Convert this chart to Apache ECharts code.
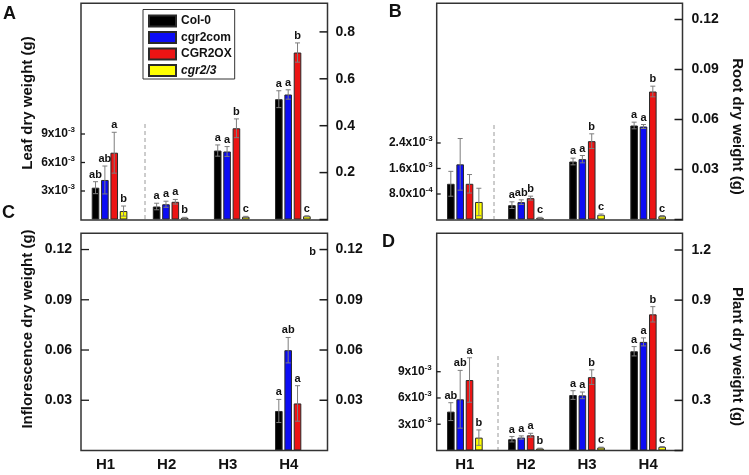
<!DOCTYPE html>
<html><head><meta charset="utf-8">
<script src="https://cdn.jsdelivr.net/npm/echarts@6/dist/echarts.min.js"></script>
<style>html,body{margin:0;padding:0;background:#fff}#c{width:749px;height:475px}</style>
</head><body><div id="c"></div>
<script>
const categories = ['H1', 'H2', 'H3', 'H4'];
const genotypes = ['Col-0', 'cgr2com', 'CGR2OX', 'cgr2/3'];

// rows = genotypes (Col-0, cgr2com, CGR2OX, cgr2/3), columns = H1..H4 (g)
// H1 is read on the left axis, H2-H4 on the right axis
const leafMean = [
  [0.00335, 0.0554, 0.294, 0.513],
  [0.00416, 0.065, 0.290, 0.533],
  [0.00703, 0.0755, 0.389, 0.712],
  [0.00089, 0.0072, 0.0115, 0.014]
];
const leafErr = [
  [0.00063, 0.014, 0.024, 0.036],
  [0.00147, 0.013, 0.021, 0.020],
  [0.00215, 0.010, 0.040, 0.041],
  [0.00053, 0.002, 0.002, 0.002]
];
const leafSig = [
  ['ab', 'a', 'a', 'a'],
  ['ab', 'a', 'a', 'a'],
  ['a', 'a', 'b', 'b'],
  ['b', 'b', 'c', 'c']
];

const rootMean = [
  [0.00112, 0.0086, 0.0348, 0.0564],
  [0.00173, 0.0104, 0.0362, 0.0558],
  [0.00112, 0.0128, 0.047, 0.0768],
  [0.00055, 0.001, 0.0028, 0.002]
];
const rootErr = [
  [0.00039, 0.002, 0.002, 0.002],
  [0.00081, 0.0014, 0.0022, 0.0012],
  [0.00029, 0.0012, 0.0044, 0.0032],
  [0.00043, 0.0003, 0.0005, 0.0004]
];
const rootSig = [
  ['', 'a', 'a', 'a'],
  ['', 'ab', 'a', 'a'],
  ['', 'b', 'b', 'b'],
  ['', 'c', 'c', 'c']
];

const inflMean = [
  [null, null, null, 0.0236],
  [null, null, null, 0.0599],
  [null, null, null, 0.0281],
  [null, null, null, null]
];
const inflErr = [
  [0, 0, 0, 0.0069],
  [0, 0, 0, 0.0076],
  [0, 0, 0, 0.0106],
  [0, 0, 0, 0]
];
const inflSig = [
  ['', '', '', 'a'],
  ['', '', '', 'ab'],
  ['', '', '', 'a'],
  ['', '', '', '']
];

const plantMean = [
  [0.00444, 0.0674, 0.332, 0.594],
  [0.00585, 0.0775, 0.330, 0.650],
  [0.00805, 0.091, 0.439, 0.815],
  [0.00147, 0.012, 0.018, 0.0215]
];
const plantErr = [
  [0.00102, 0.016, 0.026, 0.028],
  [0.0033, 0.010, 0.020, 0.024],
  [0.00254, 0.012, 0.044, 0.046],
  [0.00088, 0.002, 0.002, 0.002]
];
const plantSig = [
  ['ab', 'a', 'a', 'a'],
  ['ab', 'a', 'a', 'a'],
  ['a', 'a', 'b', 'b'],
  ['b', 'b', 'c', 'c']
];

// tick values
const leafLeftTicks = [0.003, 0.006, 0.009];
const leafRightTicks = [0.2, 0.4, 0.6, 0.8];
const rootLeftTicks = [0.0008, 0.0016, 0.0024];
const rootRightTicks = [0.03, 0.06, 0.09, 0.12];
const inflTicks = [0.03, 0.06, 0.09, 0.12];
const plantLeftTicks = [0.003, 0.006, 0.009];
const plantRightTicks = [0.3, 0.6, 0.9, 1.2];

const FONT = 'Liberation Sans, Arial, sans-serif';
const colors = ['#000000', '#0c0cf5', '#ec1414', '#ffff00'];
const BAR_W = 7.6, GAP_RATIO = 0.23;
const gapPx = BAR_W * GAP_RATIO;
const OFFS = [0, 1, 2, 3].map(i => -(4 * BAR_W + 3 * gapPx) / 2 + BAR_W / 2 + i * (BAR_W + gapPx));

function sci(digits) {
  return function (v) {
    const e = Math.floor(Math.log10(v) + 1e-9);
    const m = v / Math.pow(10, e);
    return '{m|' + m.toFixed(digits) + 'x10}{s|' + e + '}';
  };
}
function fixed(d) { return v => v.toFixed(d); }

const panels = [
  { mean: leafMean, err: leafErr, sig: leafSig,
    grid: { left: 79, top: 3, width: 244.4, height: 216.5 },
    frame: { x: 81, y: 3.3, w: 246.5, h: 216.7 },
    leftMax: 0.02279, rightMax: 0.9232, leftTicks: leafLeftTicks, rightTicks: leafRightTicks,
    leftFmt: sci(0), rightFmt: fixed(1), leftRich: true, leftTickLen: 4, leftMargin: 6, rightMargin: 8,
    rightZeroTick: true, xLabels: false, xPad: 0, leftOff: -2, rightOff: 4.1, leftFontSize: 12 },
  { mean: rootMean, err: rootErr, sig: rootSig,
    grid: { left: 434.3, top: 3, width: 244.4, height: 216.5 },
    frame: { x: 436.7, y: 3.3, w: 245.8, h: 216.7 },
    leftMax: 0.00679, rightMax: 0.1299, leftTicks: rootLeftTicks, rightTicks: rootRightTicks,
    leftFmt: sci(1), rightFmt: fixed(2), leftRich: true, leftTickLen: 4, leftMargin: 4, rightMargin: 9,
    rightZeroTick: true, xLabels: false, xPad: 0, leftOff: -2.4, rightOff: 3.8, leftFontSize: 12 },
  { mean: inflMean, err: inflErr, sig: inflSig,
    grid: { left: 79, top: 233.3, width: 244.4, height: 217.2 },
    frame: { x: 81, y: 233.3, w: 246.5, h: 217.2 },
    leftMax: 0.1297, rightMax: 0.1297, leftTicks: inflTicks, rightTicks: inflTicks,
    leftFmt: fixed(2), rightFmt: fixed(2), leftRich: false, leftTickLen: 8, leftMargin: 9, rightMargin: 8,
    rightZeroTick: false, xLabels: true, xPad: 8, leftOff: -2, rightOff: 4.1, leftFontSize: 14 },
  { mean: plantMean, err: plantErr, sig: plantSig,
    grid: { left: 434.3, top: 233.3, width: 244.4, height: 217.2 },
    frame: { x: 436.7, y: 233.3, w: 245.8, h: 217.2 },
    leftMax: 0.02481, rightMax: 1.3, leftTicks: plantLeftTicks, rightTicks: plantRightTicks,
    leftFmt: sci(0), rightFmt: fixed(1), leftRich: true, leftTickLen: 4, leftMargin: 5, rightMargin: 9,
    rightZeroTick: true, xLabels: true, xPad: 0, leftOff: -2.4, rightOff: 3.8, leftFontSize: 12 }
];

const grids = [], xAxes = [], yAxes = [], series = [];
const richSci = {
  m: { fontSize: 12, fontWeight: 'bold', fontFamily: FONT, color: '#111', lineHeight: 16 },
  s: { fontSize: 8, fontWeight: 'bold', fontFamily: FONT, color: '#111', lineHeight: 11, verticalAlign: 'top' }
};

panels.forEach((p, gi) => {
  grids.push(p.grid);
  for (let k = 0; k < 2; k++) {
    xAxes.push({
      type: 'category', data: categories, gridIndex: gi, show: k === 0,
      axisLine: { show: false }, axisTick: { show: false },
      axisLabel: { show: p.xLabels, fontSize: 15, fontWeight: 'bold', fontFamily: FONT, color: '#111',
        margin: 7, padding: [0, p.xPad, 0, 0] }
    });
  }
  yAxes.push({
    type: 'value', gridIndex: gi, position: 'left', offset: p.leftOff, min: 0, max: p.leftMax,
    splitLine: { show: false }, axisLine: { show: false }, axisTick: { show: false },
    axisLabel: { customValues: p.leftTicks, formatter: p.leftFmt, margin: p.leftMargin,
      fontSize: p.leftFontSize, fontWeight: 'bold', fontFamily: FONT, color: '#111',
      rich: p.leftRich ? richSci : undefined }
  });
  yAxes.push({
    type: 'value', gridIndex: gi, position: 'right', offset: p.rightOff, min: 0, max: p.rightMax,
    splitLine: { show: false }, axisLine: { show: false }, axisTick: { show: false },
    axisLabel: { customValues: p.rightTicks, formatter: p.rightFmt, margin: p.rightMargin,
      fontSize: 14, fontWeight: 'bold', fontFamily: FONT, color: '#111' }
  });

  for (let k = 0; k < 2; k++) {
    const axisIdx = gi * 2 + k;
    const records = [];
    for (let g = 0; g < 4; g++) {
      const data = categories.map((c, ci) => {
        const inPair = k === 0 ? ci === 0 : ci > 0;
        const v = p.mean[g][ci];
        if (inPair && v != null) {
          records.push({ cat: ci, g: g, mean: v, err: p.err[g][ci], sig: p.sig[g][ci] });
          return v;
        }
        return '-';
      });
      series.push({
        type: 'bar', name: genotypes[g], xAxisIndex: axisIdx, yAxisIndex: axisIdx,
        barWidth: BAR_W, barGap: (GAP_RATIO * 100) + '%', data: data, silent: true,
        itemStyle: { color: colors[g], borderColor: '#2a2a2a', borderWidth: 1 }
      });
    }
    series.push({
      type: 'custom', name: 'err', xAxisIndex: axisIdx, yAxisIndex: axisIdx, z: 5, silent: true,
      data: records.map(r => [r.cat, r.mean]),
      renderItem: function (params, api) {
        const r = records[params.dataIndex];
        const x = api.coord([r.cat, r.mean])[0] + OFFS[r.g];
        const yT = api.coord([r.cat, r.mean + r.err])[1];
        const yB = api.coord([r.cat, Math.max(0, r.mean - r.err)])[1];
        const ls = { stroke: '#7d7d7d', lineWidth: 1 };
        const children = [];
        if (r.err > 0) {
          children.push({ type: 'line', shape: { x1: x, y1: yB, x2: x, y2: yT }, style: ls });
          children.push({ type: 'line', shape: { x1: x - 2.5, y1: yT, x2: x + 2.5, y2: yT }, style: ls });
          children.push({ type: 'line', shape: { x1: x - 2.5, y1: yB, x2: x + 2.5, y2: yB }, style: ls });
        }
        if (r.sig) {
          children.push({ type: 'text', x: x, y: yT - 1.5,
            style: { text: r.sig, align: 'center', verticalAlign: 'bottom', textAlign: 'center', textVerticalAlign: 'bottom',
              font: 'bold 11px ' + FONT, fill: '#111' } });
        }
        return { type: 'group', children: children };
      }
    });
  }
});

const frameStyle = { fill: 'none', stroke: '#333', lineWidth: 1.5 };
const dashStyle = { stroke: '#9a9a9a', lineWidth: 1, lineDash: [4, 3] };
const titleFont = 'bold 15px ' + FONT;
const letterFont = 'bold 18px ' + FONT;
const graphic = panels.map(p => ({
  type: 'rect', shape: { x: p.frame.x, y: p.frame.y, width: p.frame.w, height: p.frame.h },
  style: frameStyle, z: 10, silent: true
})).concat([
  { type: 'line', shape: { x1: 145, y1: 124, x2: 145, y2: 219 }, style: dashStyle, silent: true },
  { type: 'line', shape: { x1: 494, y1: 125, x2: 494, y2: 219 }, style: dashStyle, silent: true },
  { type: 'line', shape: { x1: 498, y1: 356, x2: 498, y2: 450 }, style: dashStyle, silent: true },
  { type: 'text', x: 28, y: 103, rotation: Math.PI / 2, silent: true,
    style: { text: 'Leaf dry weight (g)', align: 'center', verticalAlign: 'middle', font: titleFont, fill: '#111' } },
  { type: 'text', x: 28, y: 329, rotation: Math.PI / 2, silent: true,
    style: { text: 'Inflorescence dry weight (g)', align: 'center', verticalAlign: 'middle', font: titleFont, fill: '#111' } },
  { type: 'text', x: 737, y: 126.5, rotation: -Math.PI / 2, silent: true,
    style: { text: 'Root dry weight (g)', align: 'center', verticalAlign: 'middle', font: titleFont, fill: '#111' } },
  { type: 'text', x: 737, y: 356.5, rotation: -Math.PI / 2, silent: true,
    style: { text: 'Plant dry weight (g)', align: 'center', verticalAlign: 'middle', font: titleFont, fill: '#111' } },
  { type: 'text', x: 9.5, y: 14, silent: true, style: { text: 'A', align: 'center', verticalAlign: 'middle', font: letterFont, fill: '#111' } },
  { type: 'text', x: 395.3, y: 12, silent: true, style: { text: 'B', align: 'center', verticalAlign: 'middle', font: letterFont, fill: '#111' } },
  { type: 'text', x: 8.5, y: 213, silent: true, style: { text: 'C', align: 'center', verticalAlign: 'middle', font: letterFont, fill: '#111' } },
  { type: 'text', x: 388.5, y: 242.5, silent: true, style: { text: 'D', align: 'center', verticalAlign: 'middle', font: letterFont, fill: '#111' } },
  { type: 'text', x: 312.5, y: 251.5, silent: true, style: { text: 'b', align: 'center', verticalAlign: 'middle', font: 'bold 11px ' + FONT, fill: '#111' } }
]);

const chart = echarts.init(document.getElementById('c'), null, { renderer: 'canvas' });
chart.setOption({
  animation: false,
  backgroundColor: '#fff',
  grid: grids,
  xAxis: xAxes,
  yAxis: yAxes,
  legend: {
    left: 143, top: 9.5, orient: 'vertical', itemWidth: 27, itemHeight: 11, itemGap: 3.5,
    padding: [5, 3, 2, 5], borderColor: '#333', borderWidth: 1, backgroundColor: '#fff',
    icon: 'rect', data: genotypes, selectedMode: false,
    formatter: n => n === 'cgr2/3' ? '{i|' + n + '}' : n,
    textStyle: { fontSize: 12, fontWeight: 'bold', fontFamily: FONT, color: '#111',
      rich: { i: { fontSize: 12, fontWeight: 'bold', fontStyle: 'italic', fontFamily: FONT, color: '#111' } } }
  },
  series: series
});

// inward tick marks placed through each value axis' own scale
const tickEls = [];
panels.forEach((p, gi) => {
  const fr = p.frame;
  const addTicks = (axisIdx, vals, x0, x1, w) => {
    vals.forEach(v => {
      let y;
      try { y = chart.convertToPixel({ yAxisIndex: axisIdx }, v); } catch (e) { y = NaN; }
      if (typeof y === 'number' && isFinite(y)) {
        tickEls.push({ type: 'line', z: 20, silent: true,
          shape: { x1: x0, y1: y, x2: x1, y2: y }, style: { stroke: '#1a1a1a', lineWidth: w } });
      }
    });
  };
  addTicks(gi * 2, p.leftTicks, fr.x, fr.x + p.leftTickLen, 1.3);
  addTicks(gi * 2 + 1, (p.rightZeroTick ? [0] : []).concat(p.rightTicks), fr.x + fr.w - 8, fr.x + fr.w, 1.5);
});
chart.setOption({ graphic: graphic.concat(tickEls) });
</script>
</body></html>
